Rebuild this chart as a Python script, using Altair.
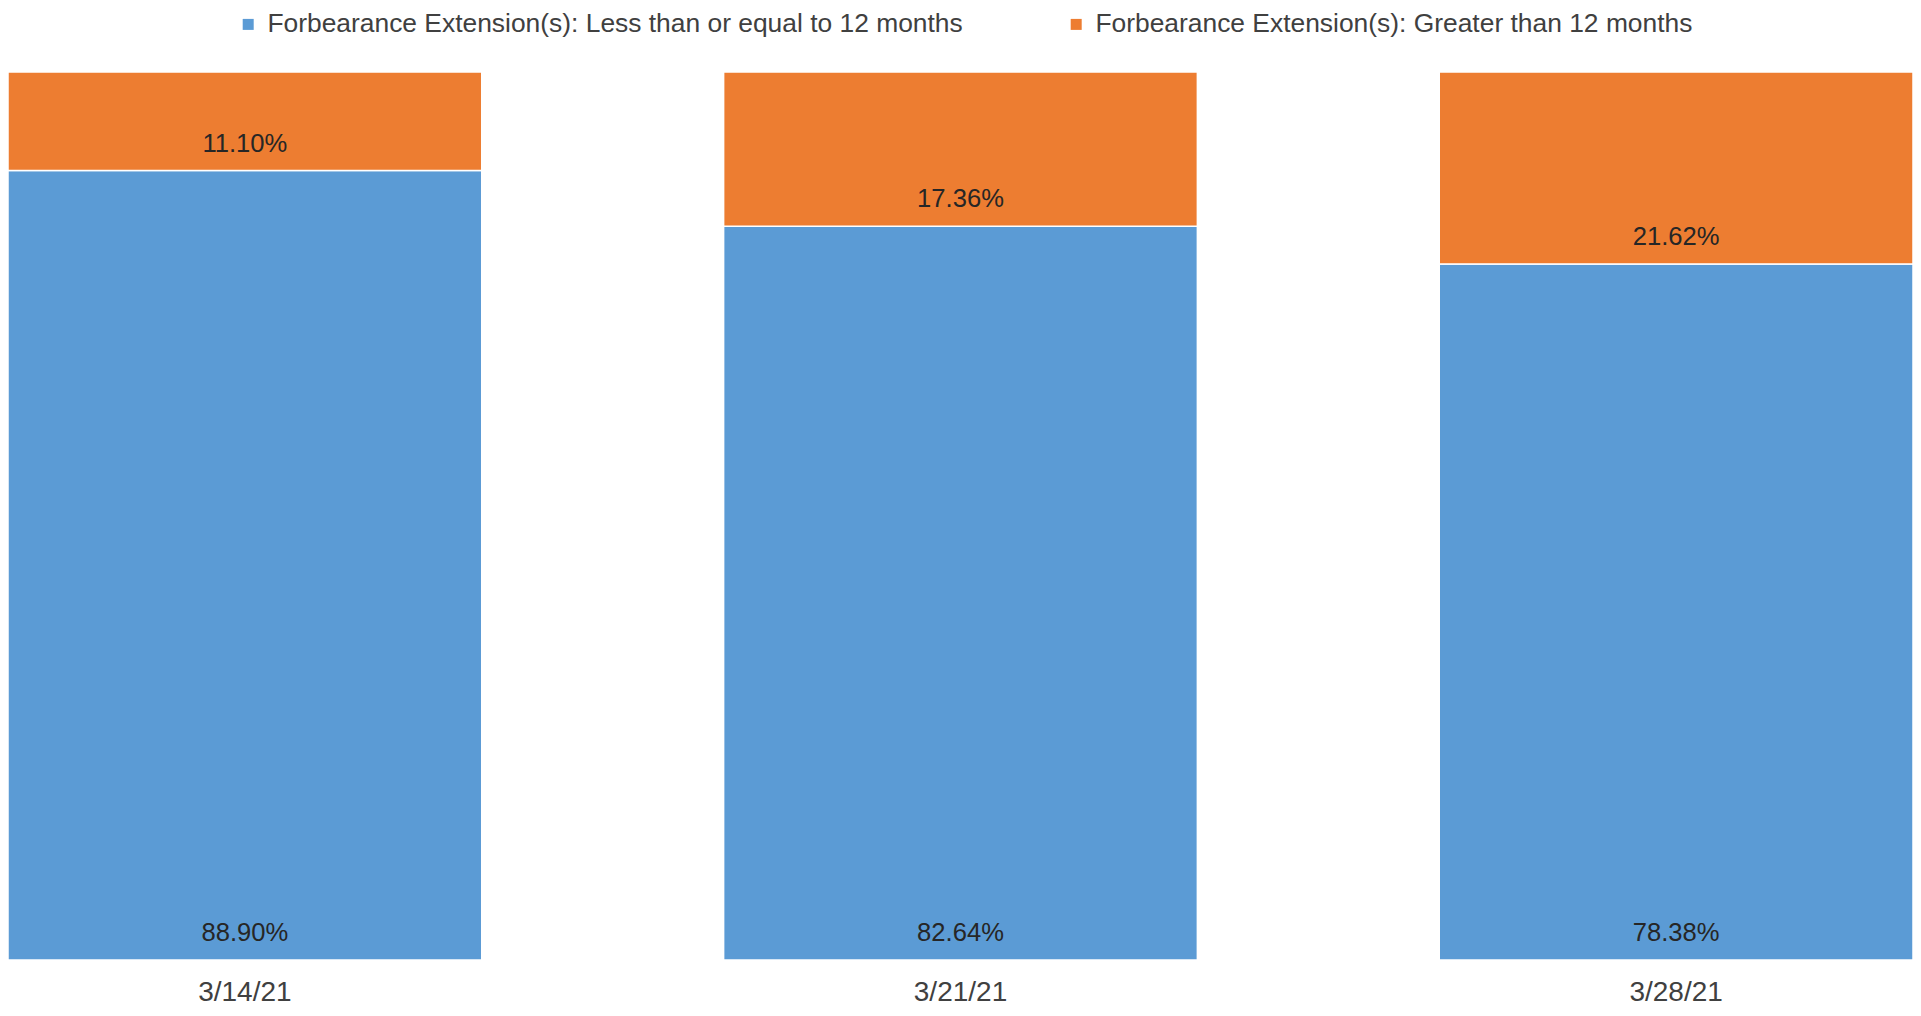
import altair as alt
import pandas as pd

dates = ["3/14/21", "3/21/21", "3/28/21"]
series = [
    "Forbearance Extension(s): Less than or equal to 12 months",
    "Forbearance Extension(s): Greater than 12 months",
]
le12 = [0.8890, 0.8264, 0.7838]
gt12 = [0.1110, 0.1736, 0.2162]
colors = ["#5B9BD5", "#ED7D31"]

rows = []
for i, d in enumerate(dates):
    rows.append({"date": d, "series": series[0], "value": le12[i], "order": 0})
    rows.append({"date": d, "series": series[1], "value": gt12[i], "order": 1})
df = pd.DataFrame(rows)

FONT = "Liberation Sans"

base = alt.Chart(df).transform_stack(
    stack="value",
    as_=["y0", "y1"],
    groupby=["date"],
    sort=[alt.SortField(field="order", order="ascending")],
)

x_enc = alt.X(
    "date:N",
    sort=dates,
    title=None,
    scale=alt.Scale(paddingInner=0.338, paddingOuter=0),
    axis=alt.Axis(
        domain=False, ticks=False, tickSize=0, labelAngle=0, labelFontSize=28,
        labelColor="#404040", labelPadding=40, labelFont=FONT,
        labelBaseline="alphabetic",
    ),
)
y_scale = alt.Scale(domain=[0, 1])

bars = base.mark_bar(stroke="white", strokeWidth=1.5).encode(
    x=x_enc,
    y=alt.Y("y0:Q", scale=y_scale, axis=None),
    y2="y1:Q",
    color=alt.Color(
        "series:N",
        scale=alt.Scale(domain=series, range=colors),
        legend=alt.Legend(
            title=None, orient="none", legendX=227, legendY=-61,
            direction="horizontal", symbolType="square", symbolSize=121,
            symbolStrokeWidth=0, labelFontSize=26.4, labelFont=FONT,
            labelColor="#404040", labelLimit=0, columnPadding=100,
            labelOffset=6,
        ),
    ),
)

labels = base.transform_calculate(
    label="format(datum.value, '.2%')"
).mark_text(
    dy=-19, baseline="alphabetic", fontSize=25.6, font=FONT, color="#262626"
).encode(
    x=alt.X("date:N", sort=dates),
    y=alt.Y("y0:Q", scale=y_scale),
    text="label:N",
)

chart = (
    alt.layer(bars, labels)
    .properties(
        width=1905,
        height=888,
        padding={"left": 0, "right": 0, "top": 64, "bottom": 48},
        autosize=alt.AutoSizeParams(type="none"),
    )
    .configure_view(stroke=None)
)

chart.save("out.html", embed_options={"renderer": "svg", "actions": False})
